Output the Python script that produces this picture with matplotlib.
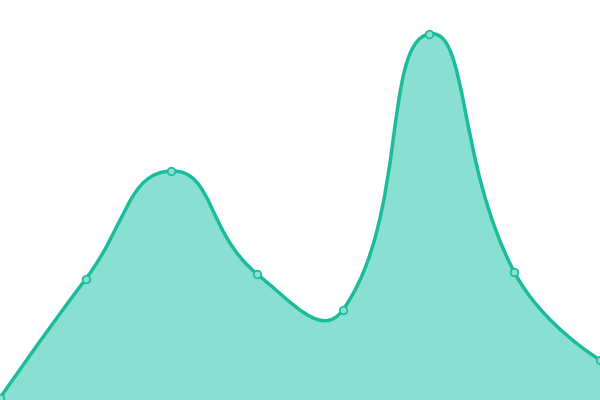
import numpy as np
import matplotlib
matplotlib.use("Agg")
import matplotlib.pyplot as plt
from matplotlib.path import Path
from matplotlib.patches import PathPatch

# values (y axis 0..400)
categories = ["A", "B", "C", "D", "E", "F", "G", "H"]
values = [2, 121, 229, 126, 90, 366, 128, 40]

LINE = "#1abc9c"
FILL = "#89e0d0"
SMOOTH = 0.5


def smooth_path(xs, ys, sx):
    """Bezier path through the points, control points as in echarts smooth lines."""
    n = len(xs)
    px = np.asarray(xs, float) * sx
    py = np.asarray(ys, float)
    verts = [(xs[0], ys[0])]
    codes = [Path.MOVETO]
    cps = []
    for i in range(n):
        if i == 0 or i == n - 1:
            cps.append(((px[i], py[i]), (px[i], py[i])))
            continue
        vx = px[i + 1] - px[i - 1]
        vy = py[i + 1] - py[i - 1]
        d0 = np.hypot(px[i] - px[i - 1], py[i] - py[i - 1])
        d1 = np.hypot(px[i + 1] - px[i], py[i + 1] - py[i])
        r = d1 / (d0 + d1)
        before = (px[i] - vx * SMOOTH * (1 - r), py[i] - vy * SMOOTH * (1 - r))
        after = (px[i] + vx * SMOOTH * r, py[i] + vy * SMOOTH * r)
        cps.append((before, after))
    for i in range(n - 1):
        a = cps[i][1]
        b = cps[i + 1][0]
        verts += [(a[0] / sx, a[1]), (b[0] / sx, b[1]), (xs[i + 1], ys[i + 1])]
        codes += [Path.CURVE4] * 3
    return verts, codes


xs = list(range(len(categories)))
sx = 600 / (len(xs) - 1)
verts, codes = smooth_path(xs, values, sx)

fig = plt.figure(figsize=(6, 4), dpi=100)
ax = fig.add_axes([0, 0, 1, 1])
ax.set_xlim(0, len(xs) - 1)
ax.set_ylim(0, 400)
ax.axis("off")

area_verts = verts + [(xs[-1], 0), (xs[0], 0), (xs[0], values[0])]
area_codes = codes + [Path.LINETO, Path.LINETO, Path.CLOSEPOLY]
ax.add_patch(PathPatch(Path(area_verts, area_codes), facecolor=FILL, edgecolor="none"))
ax.add_patch(PathPatch(Path(verts, codes), facecolor="none", edgecolor=LINE, lw=2.5))

ax.plot(xs, values, linestyle="none", marker="o", markersize=5.5,
        markerfacecolor=FILL, markeredgecolor=LINE, markeredgewidth=1.2, clip_on=False)

fig.savefig("out.png", dpi=100)
